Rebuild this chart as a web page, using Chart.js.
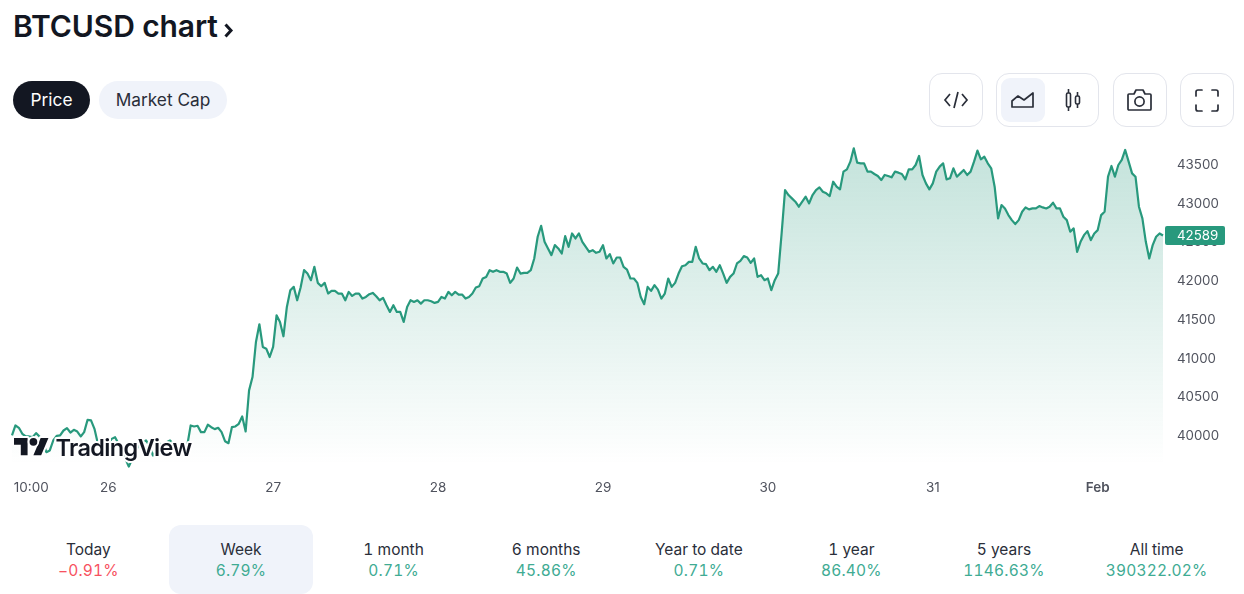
<!DOCTYPE html>
<html><head><meta charset="utf-8">
<script src="https://cdn.jsdelivr.net/npm/chart.js@4"></script>
<style>
html,body{margin:0;padding:0;background:#fff;width:1244px;height:594px;overflow:hidden;font-family:Inter,sans-serif;color:#131722}
.abs{position:absolute}
#title{left:13px;top:7px;font-size:30px;font-weight:600;line-height:38px;letter-spacing:-.1px;white-space:nowrap}
.pill{top:81px;height:38px;border-radius:19px;line-height:38px;text-align:center;font-size:17.3px}
.btn{top:73px;height:52px;border:1px solid #e3e5ec;border-radius:13px;box-sizing:content-box;background:#fff}
.tab{top:525px;width:144px;height:69px;text-align:center;border-radius:12px;box-sizing:border-box;padding-top:15px;font-variant-numeric:tabular-nums}
.tab .l{font-size:15.5px;line-height:20px;color:#2a2e39}
.tab .v{font-size:15.5px;line-height:21px;letter-spacing:.2px}
svg{position:absolute;overflow:visible}
canvas{position:absolute;left:0;top:130px}
</style></head><body>
<div id="title" class="abs">BTCUSD chart</div>
<svg style="left:222px;top:21px" width="12" height="18"><path d="M3.5 3.5 L9 9.5 L3.5 15.5" fill="none" stroke="#131722" stroke-width="3"/></svg>
<div class="abs pill" style="left:13px;width:77px;background:#131722;color:#fff">Price</div>
<div class="abs pill" style="left:99px;width:128px;background:#f0f3fa;color:#2a2e39">Market Cap</div>

<div class="abs btn" style="left:929px;width:52px"></div>
<div class="abs btn" style="left:996px;width:101px"></div>
<div class="abs" style="left:1001px;top:78px;width:44px;height:44px;border-radius:9px;background:#f0f3fa"></div>
<div class="abs btn" style="left:1113px;width:52px"></div>
<div class="abs btn" style="left:1180px;width:52px"></div>
<svg style="left:944px;top:88px" width="24" height="24" fill="none" stroke="#2a2e39" stroke-width="1.7"><path d="M6 6 L1 12 L6 18 M18 6 L23 12 L18 18 M14 4 L10 20"/></svg>
<svg style="left:1011px;top:90px" width="24" height="20" fill="none" stroke="#2a2e39" stroke-width="1.7" stroke-linejoin="round"><path d="M1 17 V11 L7 6 L13 10 L22 3 V17 Z"/></svg>
<svg style="left:1064px;top:88px" width="18" height="24" fill="none" stroke="#2a2e39" stroke-width="1.6"><rect x="2.5" y="5" width="4" height="14" rx="1.5"/><rect x="11.5" y="8" width="4" height="8" rx="1.5"/><path d="M4.5 1V5M4.5 19V23M13.5 4V8M13.5 16V20"/></svg>
<svg style="left:1127px;top:89px" width="25" height="22" fill="none" stroke="#2a2e39" stroke-width="1.7" stroke-linejoin="round"><path d="M2 5 H7 L9 1 H16 L18 5 H23 Q24 5 24 6 V20 Q24 21 23 21 H2 Q1 21 1 20 V6 Q1 5 2 5 Z"/><circle cx="12.5" cy="12.5" r="4.6"/></svg>
<svg style="left:1195px;top:89px" width="24" height="23" fill="none" stroke="#2a2e39" stroke-width="1.7" stroke-linecap="round"><path d="M1 7 V3 Q1 1 3 1 H7 M17 1 H21 Q23 1 23 3 V7 M1 16 V20 Q1 22 3 22 H7 M17 22 H21 Q23 22 23 20 V16"/></svg>

<canvas id="c" width="1244" height="380" style="width:1244px;height:380px"></canvas>

<svg style="left:14px;top:434px" width="180" height="30">
  <g transform="translate(0,0) scale(.97)" fill="#131722" stroke="#fff" stroke-width="4" paint-order="stroke" stroke-linejoin="round">
    <path d="M14 22H7V11H0V4h14v18zM28 22h-8l7.5-18h8L28 22z"/><circle cx="20" cy="8" r="4"/>
  </g>
  <text x="41.5" y="21.5" font-family="Inter" font-size="23.5" font-weight="600" letter-spacing="-.65" fill="#131722" stroke="#fff" stroke-width="4" paint-order="stroke" stroke-linejoin="round">TradingView</text>
</svg>

<div id="tabs"></div>

<script>
// Period tabs
const tabLabels = ["Today","Week","1 month","6 months","Year to date","1 year","5 years","All time"];
const tabValues = ["\u22120.91%","6.79%","0.71%","45.86%","0.71%","86.40%","1146.63%","390322.02%"];

// Tick labels
const priceTicks = [40000,40500,41000,41500,42000,42500,43000,43500];
const dayTickHours = [-11.2,0,24,48,72,96,120,144];
const dayTickLabels = ["10:00","26","27","28","29","30","31","Feb"];

// Half-hourly BTCUSD closes from 25 Jan 10:00 (hour -14 relative to 26 Jan 00:00)
const firstHour = -14;
const stepHours = 0.5;
const prices = [
40007,40136,40106,40028,39994,39994,39985,40037,39994,39920,39791,39813,39942,40002,40007,40071,40102,40045,40080,40058,
39994,40050,40209,40201,40093,39899,39877,39877,39899,39963,39985,39899,39813,39705,39605,39705,39813,39877,39920,39942,
39877,39748,39813,39899,39877,39920,39942,39899,39877,39877,39856,39877,40136,40123,40132,40050,40050,40145,40114,40089,
40106,40050,39933,39907,40114,40123,40158,40252,40058,40589,40761,41214,41443,41150,41128,41020,41150,41559,41473,41288,
41667,41883,41926,41753,41917,42142,42098,42012,42185,41978,41935,41978,41840,41874,41874,41840,41840,41753,41861,41809,
41840,41840,41775,41796,41831,41848,41805,41753,41784,41689,41602,41689,41602,41602,41473,41667,41753,41732,41753,41710,
41753,41753,41740,41719,41732,41796,41775,41861,41818,41861,41827,41827,41775,41796,41840,41917,41935,42034,42055,42142,
42120,42142,42120,42120,42098,41978,42034,42176,42098,42107,42107,42142,42293,42573,42715,42508,42422,42336,42465,42422,
42357,42581,42443,42616,42551,42616,42508,42443,42379,42400,42366,42379,42465,42293,42349,42228,42305,42305,42185,42150,
42034,42034,41978,41796,41702,41926,41874,41948,41891,41775,41840,42034,41926,41978,42098,42193,42206,42249,42249,42443,
42293,42228,42219,42142,42185,42120,42206,42098,41978,42055,42098,42228,42262,42323,42305,42236,42293,42055,42077,42012,
42034,41883,42012,42098,42616,43177,43112,43069,43026,42961,43026,43090,43004,43112,43177,43211,43155,43134,43099,43284,
43220,43185,43414,43444,43543,43716,43530,43522,43522,43414,43414,43384,43358,43306,43371,43358,43341,43414,43401,43384,
43315,43444,43444,43500,43617,43371,43263,43185,43263,43414,43479,43522,43315,43328,43457,43349,43392,43435,43371,43414,
43543,43686,43573,43608,43522,43457,43220,42810,42983,42939,42853,42788,42737,42788,42896,42952,42927,42939,42939,42970,
42952,42939,42961,43013,42939,42939,42832,42788,42638,42681,42379,42508,42594,42646,42530,42616,42659,42853,42896,43349,
43487,43349,43500,43565,43694,43543,43392,43349,42961,42810,42508,42293,42465,42573,42616,42589];
const lastPrice = prices[prices.length-1];
const hours = prices.map((_,i)=>firstHour+i*stepHours);

const GREEN = "#28997d";
const tabsEl = document.getElementById("tabs");
tabLabels.forEach((t,i)=>{
  const d=document.createElement("div");
  d.className="abs tab";
  d.style.left=(169+(i-1)*152.6)+"px";
  if(i===1) d.style.background="#f0f3fa";
  d.innerHTML='<div class="l">'+t+'</div><div class="v" style="color:'+(i===0?"#f7525f":"#40ab93")+'">'+tabValues[i]+'</div>';
  tabsEl.appendChild(d);
});

const lastBadge = {
  id:"lastBadge",
  afterDraw(chart){
    const {ctx,scales:{y}}=chart;
    const py=y.getPixelForValue(lastPrice);
    ctx.save();
    ctx.fillStyle=GREEN;
    ctx.beginPath();ctx.roundRect(1165,py-9.5,60,19,2);ctx.fill();
    ctx.fillStyle="#fff";
    ctx.font="13.3px Inter";
    ctx.textAlign="left";ctx.textBaseline="middle";
    ctx.fillText(String(lastPrice),1177,py+.5);
    ctx.restore();
  }
};

new Chart(document.getElementById("c"),{
  type:"line",
  data:{datasets:[{
    data:hours.map((h,i)=>({x:h,y:prices[i]})),
    borderColor:GREEN,borderWidth:2.2,pointRadius:0,tension:0,
    borderJoinStyle:"round",clip:false,
    fill:"start",
    backgroundColor(ctx){
      const a=ctx.chart.chartArea;
      if(!a) return "transparent";
      const g=ctx.chart.ctx.createLinearGradient(0,a.top+15,0,a.bottom-8);
      g.addColorStop(0,"rgba(40,153,125,.28)");
      g.addColorStop(1,"rgba(40,153,125,0)");
      return g;
    }
  }]},
  options:{
    responsive:false,animation:false,devicePixelRatio:1,
    layout:{padding:{left:12,right:0,top:0,bottom:0}},
    plugins:{legend:{display:false},tooltip:{enabled:false}},
    scales:{
      x:{type:"linear",min:-14,max:153.5,
        grid:{display:false,drawTicks:false},border:{display:false},
        afterBuildTicks(s){s.ticks=dayTickHours.map(v=>({value:v}));},
        afterFit(s){s.height=38;s.paddingLeft=0;s.paddingRight=0;},
        ticks:{maxRotation:0,autoSkip:false,padding:8,color:"#50535e",
          font(c){return {family:"Inter",size:13.5,weight:c.index===7?"600":"400"};},
          callback(v,i){return dayTickLabels[i];}}
      },
      y:{position:"right",min:39535,max:43952,
        grid:{display:false,drawTicks:false},border:{display:false},
        afterBuildTicks(s){s.ticks=priceTicks.map(v=>({value:v}));},
        afterFit(s){s.width=81;s.paddingTop=0;s.paddingBottom=0;},
        ticks:{padding:14,color:"#50535e",font:{family:"Inter",size:13.3},callback(v){return String(v);}}
      }
    }
  },
  plugins:[lastBadge]
});
</script>
</body></html>
